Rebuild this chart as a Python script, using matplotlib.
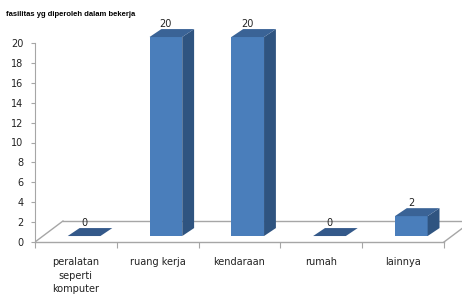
import matplotlib
matplotlib.use('Agg')
import matplotlib.pyplot as plt
from matplotlib.patches import Polygon

# data
categories = ["peralatan\nseperti\nkomputer", "ruang kerja", "kendaraan", "rumah", "lainnya"]
values = [0, 20, 20, 0, 2]
y_ticks = [0, 2, 4, 6, 8, 10, 12, 14, 16, 18, 20]
title = "fasilitas yg diperoleh dalam bekerja"

# fake 3d look (in data units)
floor_dx, floor_dy = 0.342, 2.11   # depth of the floor
mid_dx, mid_dy = 0.10, 0.60        # bars sit in the middle of the floor
bar_dx, bar_dy = 0.145, 0.80       # depth of each column
bar_w = 0.40

front_col = '#4a7ebb'
side_col = '#2f5480'
top_col = '#3a6396'
line_col = '#a6a6a6'

fig = plt.figure(figsize=(4.62, 2.99), dpi=100)
ax = fig.add_axes([35 / 462, 57 / 299, 427 / 462, 240 / 299])
n = len(categories)
ax.set_xlim(0, 427 / 81.8)
ax.set_ylim(0, 240 / 9.95)

# floor
ax.plot([0, n], [0, 0], color=line_col, lw=1, zorder=1, clip_on=False)
ax.plot([0, floor_dx], [0, floor_dy], color=line_col, lw=1, zorder=1)
ax.plot([floor_dx, n + floor_dx], [floor_dy, floor_dy], color=line_col, lw=1, zorder=1)
ax.plot([n, n + floor_dx], [0, floor_dy], color=line_col, lw=1, zorder=1)

for i, v in enumerate(values):
    xc = i + 0.5 + mid_dx
    x0, x1 = xc - bar_w / 2, xc + bar_w / 2
    b = mid_dy
    if v > 0:
        ax.bar(xc, v, width=bar_w, bottom=b, color=front_col, lw=0, zorder=3)
        ax.add_patch(Polygon([(x1, b), (x1 + bar_dx, b + bar_dy),
                              (x1 + bar_dx, b + v + bar_dy), (x1, b + v)],
                             closed=True, fc=side_col, lw=0, zorder=3))
    ax.add_patch(Polygon([(x0, b + v), (x1, b + v),
                          (x1 + bar_dx, b + v + bar_dy), (x0 + bar_dx, b + v + bar_dy)],
                         closed=True, fc=top_col if v > 0 else '#34598a', lw=0, zorder=4))
    ax.text(xc, b + v + bar_dy + 0.5, str(v), ha='center', va='center',
            fontsize=7, color='#222222', zorder=5)

# axes
for s in ['top', 'right']:
    ax.spines[s].set_visible(False)
ax.spines['bottom'].set_visible(False)
ax.spines['left'].set_color(line_col)
ax.spines['left'].set_bounds(0, 20)
ax.set_yticks(y_ticks)
ax.tick_params(axis='y', direction='out', length=3, color=line_col,
               labelsize=7, labelcolor='#222222', pad=5.5)
ax.set_xticks(range(n + 1))
ax.set_xticklabels([])
ax.tick_params(axis='x', which='major', direction='out', length=4, color=line_col)
ax.set_xticks([i + 0.5 for i in range(n)], minor=True)
ax.set_xticklabels(categories, minor=True, fontsize=7, color='#222222', linespacing=1.45)
ax.tick_params(axis='x', which='minor', length=0, pad=11)

fig.text(6 / 462, 1 - 15 / 299, title, fontsize=5.5, fontweight='bold',
         family=['Liberation Sans', 'DejaVu Sans'], ha='left', va='center')

fig.savefig('out.png', dpi=100)
